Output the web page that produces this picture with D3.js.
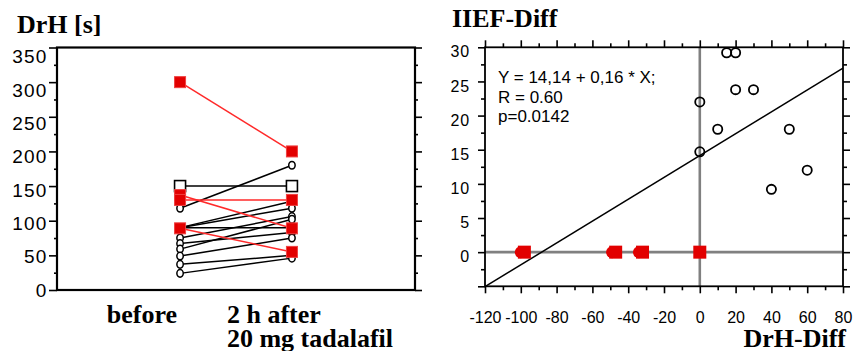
<!DOCTYPE html>
<html>
<head>
<meta charset="utf-8">
<script src="https://cdn.jsdelivr.net/npm/d3@7"></script>
<style>
  body { margin: 0; background: #fff; }
  svg { display: block; }
  .sans { font-family: "Liberation Sans", Arial, sans-serif; }
  .serif { font-family: "Liberation Serif", "Times New Roman", serif; font-weight: bold; }
</style>
</head>
<body>
<svg id="chart" width="857" height="351"></svg>
<script>
// left panel: DrH before / after
const categories = ['before', 'after'];
const blackBefore = [118, 90, 90, 90, 75, 67, 59, 49, 37, 24];
const blackAfter  = [180, 128, 118, 90, 106, 83, 102, 75, 50, 46];
const openBefore = [150];
const openAfter  = [150];
const redBefore = [300, 137, 130, 89];
const redAfter  = [200, 89, 130, 55];
const leftTicks = [0, 50, 100, 150, 200, 250, 300, 350];

// right panel: IIEF-Diff vs DrH-Diff
const circX = [0, 0, 10, 15, 20, 20, 30, 40, 50, 60];
const circY = [22, 14.7, 18, 29.2, 29.2, 23.8, 23.8, 9.2, 18, 12];
const redDotX = [-100, -49, -34];
const redSqX = [-98, -47, -32, 0];
const xTicksR = [-120, -100, -80, -60, -40, -20, 0, 20, 40, 60, 80];
const yTicksR = [0, 5, 10, 15, 20, 25, 30];
const fitA = 14.14, fitB = 0.16;
const statLines = ['Y = 14,14 + 0,16 * X;', 'R = 0.60', 'p=0.0142'];

const svg = d3.select('#chart');
const RED = '#e20000';

// ---------- left panel ----------
const L = {x0: 57, x1: 415, y0: 47.5, y1: 290};
const xL = d3.scalePoint().domain(categories).range([L.x0, L.x1]).padding(1.1);
const yL = d3.scaleLinear().domain([0, 350]).range([L.y1, L.y0]);
const yLab = d3.scaleLinear().domain([0, 350]).range([290, 56.7]);

const left = svg.append('g');

function ticks(g, axis) {
    g.call(axis).call(s => s.select('.domain').remove());
    g.selectAll('line').attr('stroke', '#000').attr('stroke-width', 1.6);
    g.selectAll('text').filter(function() { return !this.textContent; }).remove();
    return g;
}

ticks(left.append('g').attr('transform', `translate(${L.x0},0)`),
    d3.axisLeft(yL).tickValues(leftTicks).tickSize(8).tickFormat(''));
ticks(left.append('g').attr('transform', `translate(${L.x0},0)`),
    d3.axisLeft(yL).tickValues(d3.range(25, 350, 50)).tickSize(3).tickFormat(''));
ticks(left.append('g').attr('transform', `translate(${L.x1},0)`),
    d3.axisRight(yL).tickValues(leftTicks).tickSize(7).tickFormat(''));
ticks(left.append('g').attr('transform', `translate(${L.x1},0)`),
    d3.axisRight(yL).tickValues(d3.range(25, 350, 50)).tickSize(3).tickFormat(''));
left.append('g').attr('transform', `translate(${L.x0},0)`)
    .call(d3.axisLeft(yLab).tickValues(leftTicks).tickSize(0).tickPadding(9.5))
    .call(g => g.select('.domain').remove())
    .selectAll('text').attr('class', 'sans').attr('font-size', 19)
    .attr('letter-spacing', 1.2).attr('fill', '#000');

left.append('rect')
    .attr('x', L.x0).attr('y', L.y0).attr('width', L.x1 - L.x0).attr('height', L.y1 - L.y0)
    .attr('fill', 'none').attr('stroke', '#000').attr('stroke-width', 2.2);

const pairs = (a, b) => a.map((v, i) => [v, b[i]]);
const bx = xL('before'), ax = xL('after');

left.append('g').selectAll('line').data(pairs(blackBefore, blackAfter)).join('line')
    .attr('x1', bx).attr('x2', ax).attr('y1', d => yL(d[0])).attr('y2', d => yL(d[1]))
    .attr('stroke', '#000').attr('stroke-width', 1.5);
left.append('g').selectAll('line').data(pairs(openBefore, openAfter)).join('line')
    .attr('x1', bx).attr('x2', ax).attr('y1', d => yL(d[0])).attr('y2', d => yL(d[1]))
    .attr('stroke', '#000').attr('stroke-width', 1.5);

const blackPts = blackBefore.map(v => [bx, v]).concat(blackAfter.map(v => [ax, v]));
left.append('g').selectAll('ellipse').data(blackPts).join('ellipse')
    .attr('cx', d => d[0]).attr('cy', d => yL(d[1])).attr('rx', 3.2).attr('ry', 3.8)
    .attr('fill', '#fff').attr('stroke', '#000').attr('stroke-width', 1.5);

const openPts = openBefore.map(v => [bx, v]).concat(openAfter.map(v => [ax, v]));
left.append('g').selectAll('rect').data(openPts).join('rect')
    .attr('x', d => d[0] - 5.5).attr('y', d => yL(d[1]) - 5.5).attr('width', 11).attr('height', 11)
    .attr('fill', '#fff').attr('stroke', '#000').attr('stroke-width', 1.6);

left.append('g').selectAll('line').data(pairs(redBefore, redAfter)).join('line')
    .attr('x1', bx).attr('x2', ax).attr('y1', d => yL(d[0])).attr('y2', d => yL(d[1]))
    .attr('stroke', '#ff2a2a').attr('stroke-width', 1.5);
const redPts = redBefore.map(v => [bx, v]).concat(redAfter.map(v => [ax, v]));
left.append('g').selectAll('rect').data(redPts).join('rect')
    .attr('x', d => d[0] - 5.5).attr('y', d => yL(d[1]) - 5.5).attr('width', 11).attr('height', 11)
    .attr('fill', RED).attr('stroke', '#f04040').attr('stroke-width', 1);

svg.append('text').attr('class', 'serif').attr('x', 17).attr('y', 33)
    .attr('font-size', 26).text('DrH [s]');
svg.append('text').attr('class', 'serif').attr('x', bx - 3).attr('y', 323)
    .attr('text-anchor', 'end').attr('font-size', 26).text('before');
svg.append('text').attr('class', 'serif').attr('x', ax - 65).attr('y', 323)
    .attr('font-size', 26).text('2 h after');
svg.append('text').attr('class', 'serif').attr('x', ax - 65).attr('y', 347)
    .attr('font-size', 26).text('20 mg tadalafil');

// ---------- right panel ----------
const R = {x0: 485, x1: 843, y0: 47.3, y1: 286.3};
const xR = d3.scaleLinear().domain([-120, 80]).range([R.x0, R.x1]);
const yR = d3.scaleLinear().domain([-5, 30]).range([R.y1, R.y0]);
const right = svg.append('g');

const xMinor = d3.range(-110, 80, 20);
const yMinor = d3.range(-2.5, 30, 5);
const yMajor = d3.range(-5, 31, 5);

ticks(right.append('g').attr('transform', `translate(0,${R.y0})`),
    d3.axisTop(xR).tickValues(xTicksR).tickSize(7).tickFormat(''));
ticks(right.append('g').attr('transform', `translate(0,${R.y0})`),
    d3.axisTop(xR).tickValues(xMinor).tickSize(4).tickFormat(''));
ticks(right.append('g').attr('transform', `translate(0,${R.y1})`),
    d3.axisBottom(xR).tickValues(xMinor).tickSize(4).tickFormat(''));
ticks(right.append('g').attr('transform', `translate(0,${R.y1})`),
    d3.axisBottom(xR).tickValues(xTicksR).tickSize(7).tickFormat(''));

ticks(right.append('g').attr('transform', `translate(${R.x0},0)`),
    d3.axisLeft(yR).tickValues(yMinor).tickSize(4).tickFormat(''));
ticks(right.append('g').attr('transform', `translate(${R.x1},0)`),
    d3.axisRight(yR).tickValues(yMinor).tickSize(4).tickFormat(''));
ticks(right.append('g').attr('transform', `translate(${R.x1},0)`),
    d3.axisRight(yR).tickValues(yMajor).tickSize(7).tickFormat(''));
ticks(right.append('g').attr('transform', `translate(${R.x0},0)`),
    d3.axisLeft(yR).tickValues(yMajor).tickSize(7).tickFormat(''));
right.append('g').attr('transform', `translate(${R.x0},4.5)`)
    .call(d3.axisLeft(yR).tickValues(yTicksR).tickSize(0).tickPadding(15))
    .call(g => g.select('.domain').remove())
    .selectAll('text').attr('class', 'sans').attr('font-size', 16)
    .attr('letter-spacing', 0.8).attr('fill', '#000');

// zero lines
right.append('line').attr('x1', xR(0)).attr('x2', xR(0)).attr('y1', R.y0).attr('y2', R.y1)
    .attr('stroke', '#808080').attr('stroke-width', 2.6);
right.append('line').attr('x1', R.x0).attr('x2', R.x1).attr('y1', yR(0)).attr('y2', yR(0))
    .attr('stroke', '#808080').attr('stroke-width', 2.6);

right.append('rect')
    .attr('x', R.x0).attr('y', R.y0).attr('width', R.x1 - R.x0).attr('height', R.y1 - R.y0)
    .attr('fill', 'none').attr('stroke', '#000').attr('stroke-width', 1.8);

// regression line
right.append('line')
    .attr('x1', xR(-120)).attr('y1', yR(fitA + fitB * -120))
    .attr('x2', xR(80)).attr('y2', yR(fitA + fitB * 80))
    .attr('stroke', '#000').attr('stroke-width', 1.5);

right.append('g').selectAll('circle').data(circX.map((x, i) => [x, circY[i]])).join('circle')
    .attr('cx', d => xR(d[0])).attr('cy', d => yR(d[1])).attr('r', 4.6)
    .attr('fill', 'none').attr('stroke', '#000').attr('stroke-width', 1.8);

right.append('g').selectAll('circle').data(redDotX).join('circle')
    .attr('cx', d => xR(d)).attr('cy', yR(0)).attr('r', 6)
    .attr('fill', RED);
right.append('g').selectAll('rect').data(redSqX).join('rect')
    .attr('x', d => xR(d) - 6.5).attr('y', yR(0) - 6.5).attr('width', 13).attr('height', 13)
    .attr('fill', RED);

right.append('g').selectAll('text').data(statLines).join('text')
    .attr('class', 'sans').attr('font-size', 17)
    .attr('x', 498).attr('y', (d, i) => 83.3 + i * 19.2).text(d => d);

svg.append('text').attr('class', 'serif').attr('x', 452).attr('y', 27)
    .attr('font-size', 26).text('IIEF-Diff');
svg.append('text').attr('class', 'serif').attr('x', 846).attr('y', 347)
    .attr('text-anchor', 'end').attr('font-size', 26).text('DrH-Diff');

// bottom tick labels
svg.append('g').attr('transform', `translate(0,${R.y1})`)
    .call(d3.axisBottom(xR).tickValues(xTicksR).tickSize(0).tickPadding(25).tickFormat(d => String(d)))
    .call(g => g.select('.domain').remove())
    .selectAll('text').attr('class', 'sans').attr('font-size', 16).attr('fill', '#000');
</script>
</body>
</html>
